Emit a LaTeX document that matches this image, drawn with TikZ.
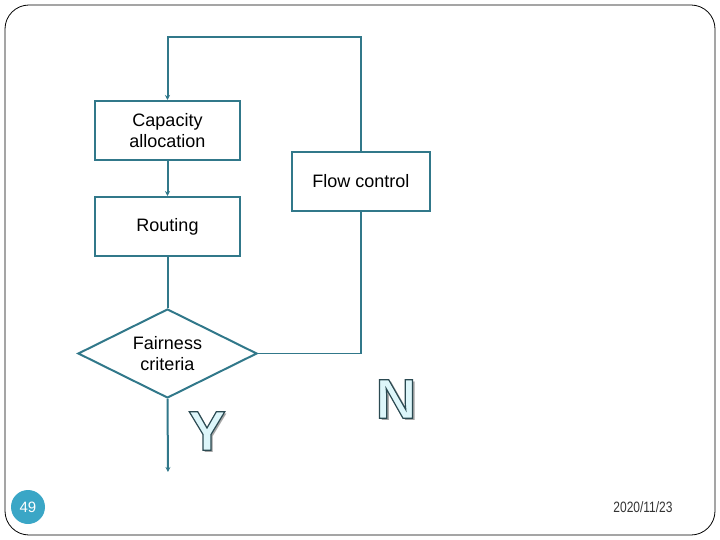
\documentclass[tikz,border=0pt]{standalone}
\usepackage{fontspec}
\setmainfont{Liberation Sans}
\usepackage{xcolor}
\usetikzlibrary{arrows.meta}
\usetikzlibrary{shapes.geometric}
\definecolor{flowteal}{HTML}{31788A}
\definecolor{pagecyan}{HTML}{3AA6C6}
\definecolor{letterfill}{HTML}{DDF6FA}
\newcommand{\boxfont}{\fontsize{18}{21.6}\selectfont}
\newcommand{\bigletter}{\fontsize{56}{56}\selectfont\bfseries}
% fill the glyph, then stroke its outline in dark teal
\newcommand{\outlined}[1]{\special{pdf:literal 2 Tr 1.2 w 0.17 0.29 0.32 RG}#1\special{pdf:literal 0 Tr}}
\tikzset{
  procbox/.style={draw=flowteal, line width=2pt, minimum width=145pt,
    minimum height=59pt, inner sep=0pt, align=center, font=\boxfont},
  decisionbox/.style={diamond, draw=flowteal, line width=2pt, aspect=2,
    minimum width=179pt, minimum height=89pt, inner sep=0pt, align=center,
    font=\boxfont},
  flowline/.style={draw=flowteal, line width=2pt},
  flowarrow/.style={flowline, -{Stealth[length=5pt,width=5pt]}},
  bigmark/.style={font=\bigletter, text=letterfill, inner sep=0pt},
  bigshadow/.style={font=\bigletter, text=black!35, inner sep=0pt},
}

\begin{document}
\begin{tikzpicture}[x=1pt,y=-1pt]
\useasboundingbox (0,0) rectangle (720,540);
\draw[black, line width=0.8pt, rounded corners=24pt] (5,5) rectangle (715,535);

\node[procbox] (cap) at (167.5,130.5) {Capacity\\allocation};
\node[procbox, minimum width=138pt] (flow) at (361,181.5) {Flow control};
\node[procbox] (route) at (167.5,226.5) {Routing};
\node[decisionbox] (fair) at (167.5,353.5) {Fairness\\criteria};
\coordinate (yesend) at (168,472);

\draw[flowarrow] (flow.north) -- ++(0,-114) -| (cap.north);
\draw[flowarrow] (cap.south) -- (route.north);
\draw[flowline] (route.south) -- (fair.north);
\draw[flowline, line width=1.2pt] (fair.east) -| (flow.south);
\draw[flowarrow] (fair.south) -- (yesend);

% outlined Y and N
\node[bigshadow] (yshadow) at (209.5,433.5) {Y};
\node[bigshadow] (nshadow) at (398.5,401.5) {N};
\node[bigmark] (yes) at (207,431) {\outlined{Y}};
\node[bigmark] (no) at (396,399) {\outlined{N}};

\node[circle, fill=pagecyan, minimum size=34pt, inner sep=0pt, text=white,
  font=\fontsize{15}{15}\selectfont] (pagenum) at (28,507) {49};
\node[font=\fontsize{15}{15}\selectfont, xscale=0.8, text=black!80] (date)
  at (643,507) {2020/11/23};
\end{tikzpicture}
\end{document}
